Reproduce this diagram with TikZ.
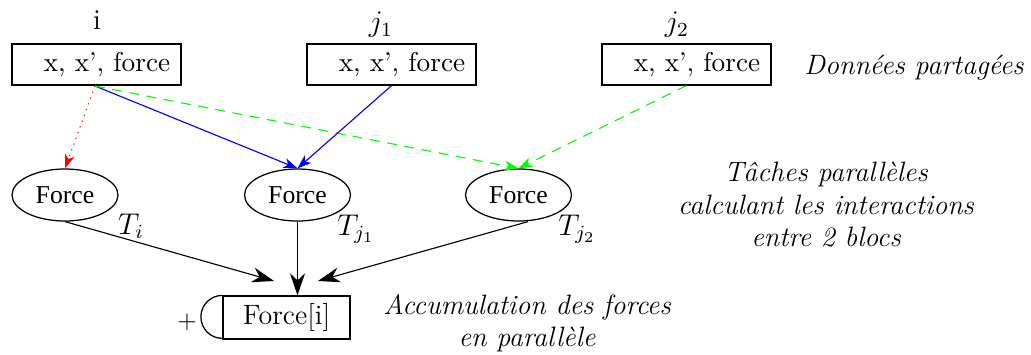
\documentclass[tikz,border=0pt]{standalone}
\usepackage{fontspec}
\newfontfamily\timesf{Liberation Serif}
\usetikzlibrary{arrows.meta,shapes.geometric}
\begin{document}
\begin{tikzpicture}[x=0.4pt,y=-0.4pt,
  databox/.style={draw, line width=0.5pt, minimum width=67.6pt, minimum height=16.4pt, inner sep=0pt, font=\fontsize{10.9}{12}\selectfont},
  task/.style={draw, ellipse, line width=0.5pt, minimum width=42.4pt, minimum height=20.8pt, inner sep=0pt, font=\timesf\fontsize{10.3}{12}\selectfont},
  itext/.style={font=\itshape\fontsize{11.2}{13}\selectfont, align=center},
  bigtip/.style={-{Stealth[length=8.8pt,width=6pt,inset=2.8pt]}, line width=0.45pt},
  smalltip/.style={-{Stealth[length=5.6pt,width=4pt,inset=1.6pt]}, line width=0.45pt},
  lbl/.style={font=\fontsize{11.5}{12}\selectfont, inner sep=0pt}
]
\useasboundingbox (0,0) rectangle (1031,354);
% shared data boxes
\node[databox] (b1) at (96.5,64.5) {\hspace*{8.4pt}x, x', force};
\node[databox] (b2) at (391.5,64.5) {\hspace*{8.4pt}x, x', force};
\node[databox] (b3) at (686.5,64.5) {\hspace*{8.4pt}x, x', force};
\node[lbl] (li) at (97,20) {i};
\node[lbl] (lj1) at (381,25) {$j_1$};
\node[lbl] (lj2) at (677,25) {$j_2$};
\node[itext] (shared) at (914,68) {Donn\'ees partag\'ees};
% tasks
\node[task] (t1) at (65,195) {Force};
\node[task] (t2) at (297.5,195) {Force};
\node[task] (t3) at (518.5,195) {Force};
\node[lbl] (lt1) at (131,226) {$T_i$};
\node[lbl] (lt2) at (356,229) {$T_{j_1}$};
\node[lbl] (lt3) at (577,229) {$T_{j_2}$};
\node[itext] (tasktxt) at (826,205) {T\^aches parall\`eles\\calculant les interactions\\entre 2 blocs};
% accumulation
\node[draw, line width=0.5pt, minimum width=50.8pt, minimum height=17.2pt, inner sep=0pt, font=\fontsize{11.2}{12}\selectfont] (acc) at (286.5,317.5) {Force[i]};
\draw[line width=0.5pt] (acc.north west) arc[start angle=90, end angle=270, radius=8.6pt];
\node[lbl, font=\fontsize{10}{12}\selectfont] (plus) at (187,322) {+};
\node[itext] (acctxt) at (527,323) {Accumulation des forces\\en parall\`ele};
% connectors
\coordinate (b1s) at (95,86);
\draw[smalltip, red, dotted] (b1s) -- (t1.north);
\draw[smalltip, blue] (b1s) -- (t2.north);
\draw[smalltip, green, dash pattern=on 4pt off 3pt] (b1s) -- (t3.north);
\draw[smalltip, blue] (b2.south) -- (t2.north);
\draw[smalltip, green, dash pattern=on 4pt off 3pt] (b3.south) -- (t3.north);
\coordinate (a1) at (274,281);
\coordinate (a3) at (318,281);
\draw[bigtip] (t1.south) -- (a1);
\draw[bigtip] (t2.south) -- (t2.south |- acc.north);
\draw[bigtip] (t3.south -| 528,0) -- (a3);
\end{tikzpicture}
\end{document}
